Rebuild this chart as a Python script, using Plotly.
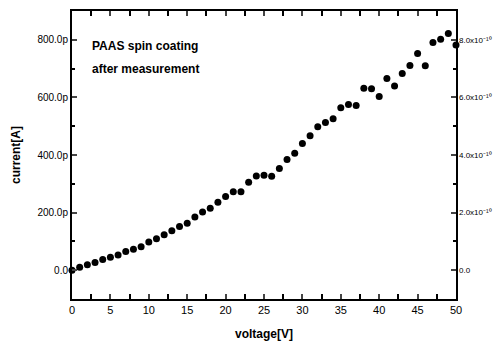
import plotly.graph_objects as go

voltage = list(range(0, 51))
current_pA = [0, 10, 19, 27, 37, 45, 53, 65, 73, 81,
              98, 109, 123, 137, 152, 163, 185, 202, 215, 236,
              256, 272, 272, 305, 327, 330, 326, 353, 384, 406,
              440, 467, 498, 513, 526, 564, 575, 572, 632, 630,
              603, 666, 640, 683, 711, 752, 710, 791, 802, 822, 782]

left_tickvals = [0, 200, 400, 600, 800]
left_ticktext = ["0.0", "200.0p", "400.0p", "600.0p", "800.0p"]
right_ticktext = ["0.0", "2.0x10⁻¹⁰", "4.0x10⁻¹⁰", "6.0x10⁻¹⁰", "8.0x10⁻¹⁰"]
x_tickvals = [0, 5, 10, 15, 20, 25, 30, 35, 40, 45, 50]

FONT = "Liberation Sans Narrow, Arial Narrow, Liberation Sans, Arial"
BOLD = "Liberation Sans, Arial"

fig = go.Figure()
fig.add_trace(go.Scatter(x=voltage, y=current_pA, mode="markers",
                         marker=dict(color="black", size=7),
                         cliponaxis=False, showlegend=False))
fig.add_trace(go.Scatter(x=[0], y=[0], yaxis="y2", mode="markers",
                         marker=dict(opacity=0), showlegend=False, hoverinfo="skip"))

fig.update_layout(
    width=500, height=341,
    margin=dict(l=72, r=44, t=11, b=42, autoexpand=False),
    paper_bgcolor="white", plot_bgcolor="white",
    font=dict(family=FONT, color="black"),
    xaxis=dict(range=[0, 50], tickvals=x_tickvals, ticks="inside", ticklen=5,
               tickwidth=1.5, showline=True, linewidth=2, linecolor="black",
               mirror="allticks", showgrid=False, zeroline=False,
               tickfont=dict(size=11, family=FONT, color="black"),
               minor=dict(dtick=2.5, ticks="inside", ticklen=3, tickcolor="black"),
               title=dict(text="<b>voltage[V]</b>", font=dict(size=12, family=BOLD, color="black"),
                          standoff=14)),
    yaxis=dict(range=[-100, 900], tickvals=left_tickvals, ticktext=left_ticktext,
               ticks="inside", ticklen=5, tickwidth=1.5, showline=True, linewidth=2,
               linecolor="black", mirror="allticks", showgrid=False, zeroline=False,
               tickfont=dict(size=10, family=FONT, color="black"),
               minor=dict(dtick=100, ticks="inside", ticklen=3, tickcolor="black"),
               title=dict(text="<b>current[A]</b>", font=dict(size=12, family=BOLD, color="black"),
                          standoff=14)),
    yaxis2=dict(range=[-100, 900], overlaying="y", side="right", automargin=False,
                tickvals=left_tickvals, ticktext=right_ticktext, showline=False,
                ticks="", showgrid=False, zeroline=False, ticklabelstandoff=2,
                tickfont=dict(size=8, family=FONT, color="black")),
    annotations=[
        dict(xref="paper", yref="paper", x=0.047, y=0.88, xanchor="left", yanchor="middle",
             text="<b>PAAS spin coating</b>", showarrow=False,
             font=dict(size=12, family=BOLD, color="black")),
        dict(xref="paper", yref="paper", x=0.047, y=0.80, xanchor="left", yanchor="middle",
             text="<b>after measurement</b>", showarrow=False,
             font=dict(size=12, family=BOLD, color="black")),
    ],
)

fig.write_html("out.html")
